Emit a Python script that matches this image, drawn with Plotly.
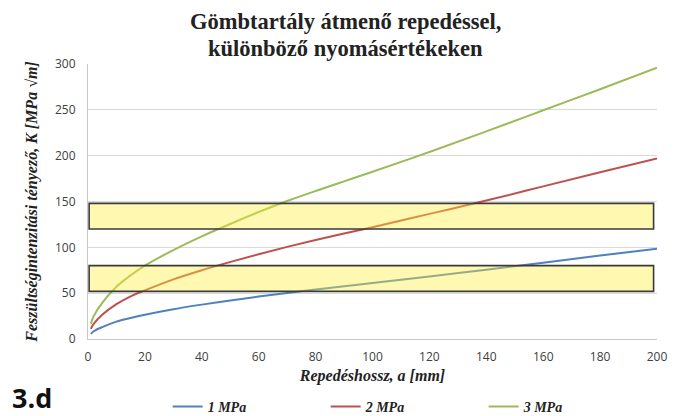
import plotly.graph_objects as go

# crack length a [mm]
a_mm = [1, 2, 5, 10, 15, 20, 30, 40, 50, 60, 70, 80, 90, 100, 120, 140, 160, 180, 200]
k_1mpa = [5.5, 8.5, 13, 19, 23, 26.5, 32.5, 37.5, 42, 46.3, 50.3, 54, 57.5, 61, 68.3, 75.5, 83.2, 91, 98.5]
k_2mpa = [11, 16.5, 26.5, 38, 46.5, 53, 65, 75, 84, 92.5, 100.5, 108, 115, 122, 136.5, 151, 166.5, 182, 197]
k_3mpa = [16.5, 25, 39.5, 57, 69.5, 80, 97, 112, 125.5, 138.5, 150.5, 161.5, 172, 182.5, 204, 226.5, 249.5, 272.5, 296]
series_names = ["1 MPa", "2 MPa", "3 MPa"]
series_colors = ["#4f81bd", "#c0504d", "#9bbb59"]

# highlighted K bands (y ranges) and their x extent
band_x = [0.4, 198.8]
band_y = [[120, 148], [52, 80]]

x_ticks = [0, 20, 40, 60, 80, 100, 120, 140, 160, 180, 200]
y_ticks = [0, 50, 100, 150, 200, 250, 300]

title_lines = ["Gömbtartály átmenő repedéssel,", "különböző nyomásértékeken"]

fig = go.Figure()
for name, vals, col in zip(series_names, [k_1mpa, k_2mpa, k_3mpa], series_colors):
    fig.add_trace(go.Scatter(x=a_mm, y=vals, mode="lines", name="<b><i>" + name + "</i></b>",
                             line=dict(color=col, width=2, shape="spline")))

for y0, y1 in band_y:
    fig.add_shape(type="rect", xref="x", yref="y", x0=band_x[0], x1=band_x[1], y0=y0, y1=y1,
                  fillcolor="rgba(255,238,60,0.40)", line=dict(color="#3a3a3a", width=1.6),
                  layer="above")

serif = "Liberation Serif"
fig.update_layout(
    width=681, height=416,
    margin=dict(l=88, r=24, t=64, b=77, autoexpand=False),
    paper_bgcolor="white", plot_bgcolor="white",
    xaxis=dict(range=[0, 200], tickvals=x_ticks, showgrid=False, zeroline=False,
               showline=True, linecolor="#c8c8c8", linewidth=1, ticks="",
               ticklabelstandoff=7,
               tickfont=dict(family="Open Sans", size=12, color="#404040"),
               title=dict(text="<b><i>Repedéshossz, a [mm]</i></b>", standoff=5,
                          font=dict(family=serif, size=16, color="#222"))),
    yaxis=dict(range=[0, 300], tickvals=y_ticks, showgrid=True, gridcolor="#d9d9d9",
               zeroline=False, showline=True, linecolor="#c8c8c8", linewidth=1, ticks="",
               ticklabelstandoff=9,
               tickfont=dict(family="Open Sans", size=12, color="#404040"),
               title=dict(text="<b><i>Feszültségintenzitási tényező, K [MPa √m]</i></b>", standoff=13,
                          font=dict(family=serif, size=16, color="#222"))),
    legend=dict(orientation="h", x=0.14, xanchor="left", y=-0.247, yanchor="middle",
                entrywidth=113, entrywidthmode="pixels", itemwidth=30,
                font=dict(family=serif, size=14, color="#222"), bgcolor="rgba(0,0,0,0)"),
    showlegend=True,
)

for line, py in zip(title_lines, [22, 48]):
    fig.add_annotation(text="<b>" + line + "</b>", xref="paper", yref="paper",
                       x=0.452, y=1 + (64 - py) / 275, xanchor="center", yanchor="middle",
                       showarrow=False, font=dict(family=serif, size=22.5, color="#222"))

fig.add_annotation(text="<b>3.d</b>", xref="paper", yref="paper", x=-0.137, y=1 + (64 - 397) / 275,
                   xanchor="left", yanchor="middle", showarrow=False,
                   font=dict(family="Open Sans", size=27, color="#111"))

fig.write_html("out.html", config={"displayModeBar": False},
               post_script="document.body.style.margin='0';")
